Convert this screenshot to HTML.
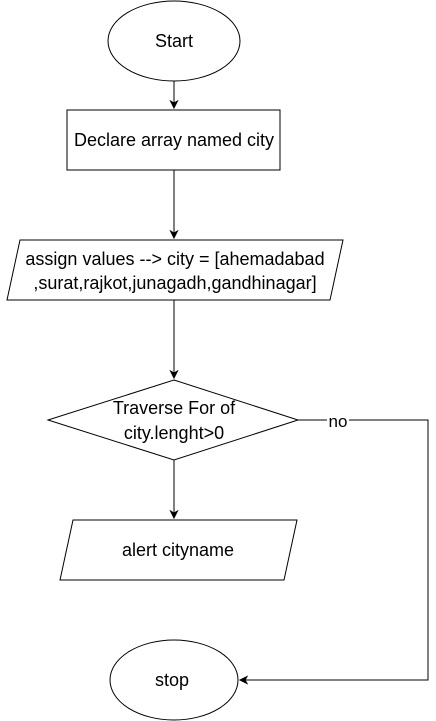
<!DOCTYPE html>
<html><head><meta charset="utf-8"><style>
html,body{margin:0;padding:0;background:#fff;}
svg{display:block;}
text{font-family:"Liberation Sans",Arial,sans-serif;font-size:18px;fill:#000;}
</style></head><body>
<svg width="436" height="721" viewBox="0 0 436 721" xmlns="http://www.w3.org/2000/svg">
<defs><marker id="a" markerWidth="10" markerHeight="10" refX="8" refY="5" orient="auto" markerUnits="userSpaceOnUse"><path d="M1,1.5 L8,5 L1,8.5 L3,5 Z" fill="#000" stroke="#000"/></marker></defs>
<g fill="#fff" stroke="#000" stroke-width="1">
<ellipse cx="174" cy="41" rx="66" ry="40"/>
<rect x="67" y="110" width="213" height="60"/>
<polygon points="20,240 343,240 330,300 7,300"/>
<polygon points="174,380 298,420 174,460 48,420"/>
<polygon points="73,520 297,520 284,580 60,580"/>
<ellipse cx="174" cy="680" rx="64" ry="40"/>
</g>
<g stroke="#000" fill="none">
<line x1="174" y1="81" x2="174" y2="108" marker-end="url(#a)"/>
<line x1="174" y1="170" x2="174" y2="238" marker-end="url(#a)"/>
<line x1="174" y1="300" x2="174" y2="378" marker-end="url(#a)"/>
<line x1="174" y1="460" x2="174" y2="518" marker-end="url(#a)"/>
<polyline points="298,420 428,420 428,680 240,680" marker-end="url(#a)"/>
</g>
<rect x="327" y="412" width="22" height="18" fill="#fff"/>
<g text-anchor="middle">
<text x="174" y="47">Start</text>
<text x="174" y="146">Declare array named city</text>
<text x="175" y="265">assign values --&gt; city = [ahemadabad</text>
<text x="175" y="289">,surat,rajkot,junagadh,gandhinagar]</text>
<text x="174" y="414">Traverse For of</text>
<text x="174" y="439">city.lenght&gt;0</text>
<text x="178" y="556">alert cityname</text>
<text x="172" y="686">stop</text>
<text x="338" y="427" style="font-size:17px">no</text>
</g>
</svg>
</body></html>
